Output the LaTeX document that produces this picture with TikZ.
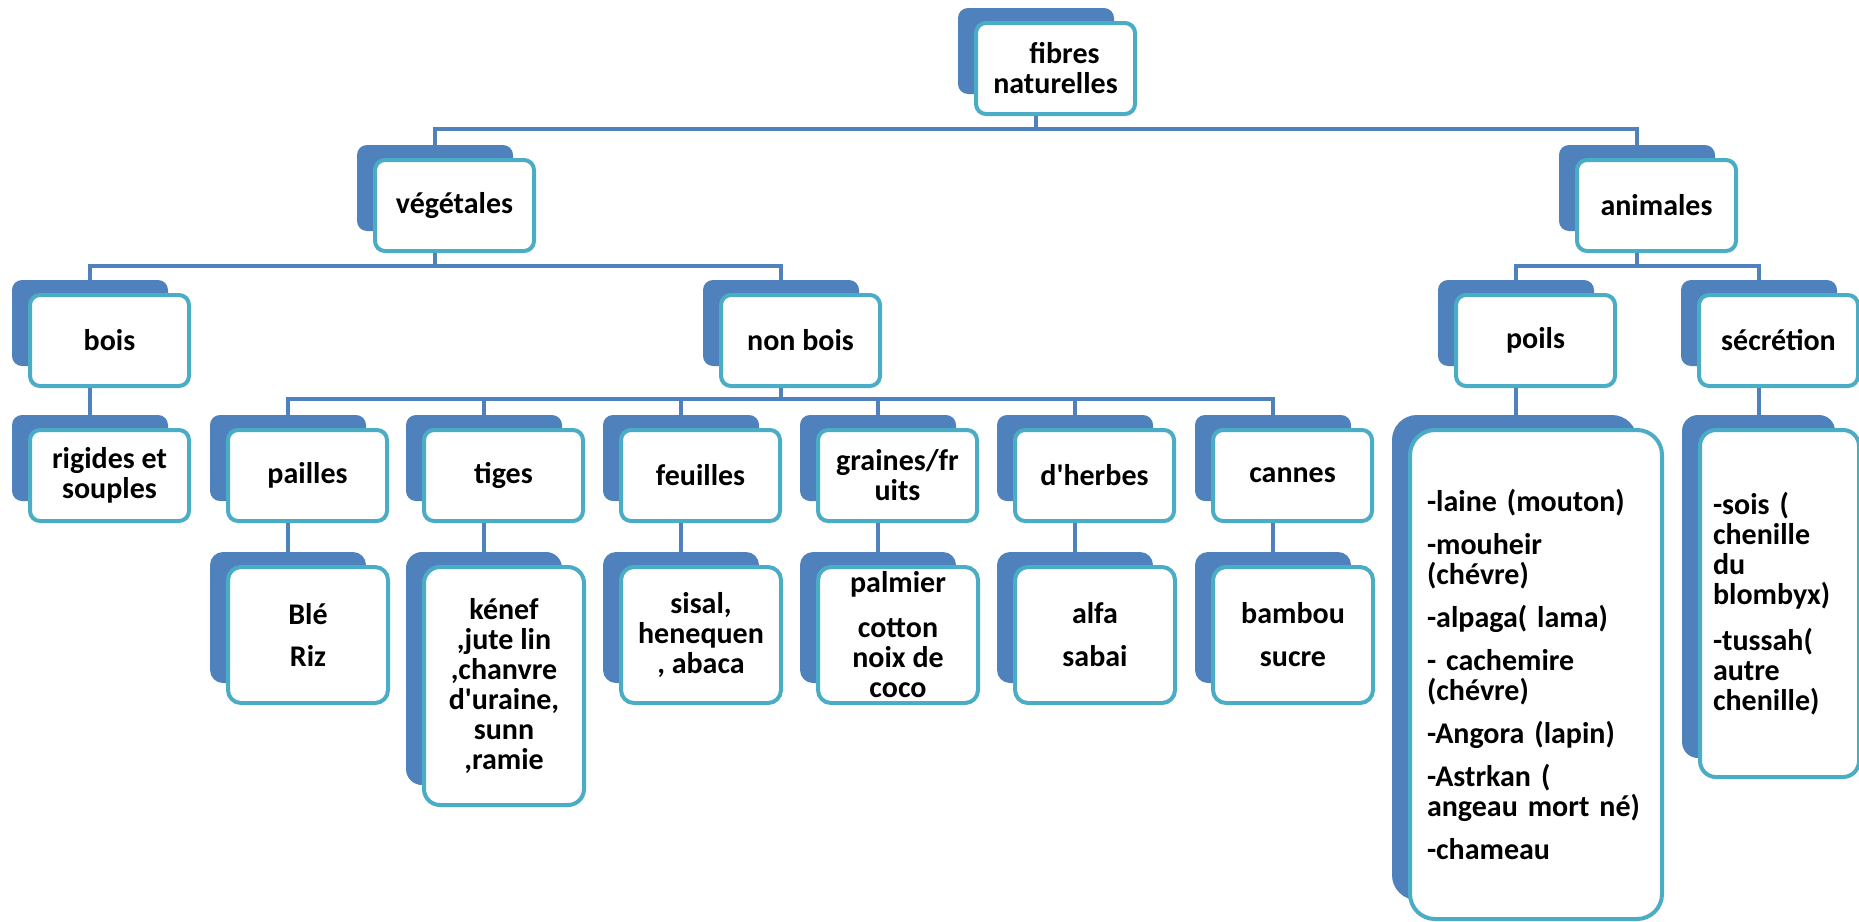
\documentclass[tikz,border=0pt]{standalone}
\usepackage{fontspec}
\setmainfont{Carlito}
\newfontfamily\apfont{Carlito}
\definecolor{backblue}{RGB}{79,129,189}
\definecolor{frontcyan}{RGB}{75,172,198}
\definecolor{connblue}{RGB}{79,129,189}
\newcommand\apos{{\apfont\bfseries '}}
% #1 extra scope options, #2 name, #3,#4 back top-left, #5,#6 back size, #7,#8 front size, #9 text
\newcommand\duo[9]{%
  \begin{scope}[every node/.append style={rounded corners=10pt, align=center}, #1]
    \node[backbox, minimum width=#5pt, minimum height=#6pt, anchor=north west] (#2-b) at (#3,#4) {};
    \node[frontbox, minimum width={#7pt-4pt}, minimum height={#8pt-4pt}, anchor=north west] (#2) at ({#3+16},{#4+13}) {#9};
  \end{scope}}
\begin{document}
\begin{tikzpicture}[x=1pt, y=-1pt,
  backbox/.style={fill=backblue, draw=none, inner sep=0pt, outer sep=0pt},
  frontbox/.style={fill=white, draw=frontcyan, line width=4pt, inner sep=0pt, outer sep=2pt,
    text=black, font=\fontsize{30}{30}\selectfont\bfseries},
  conn/.style={draw=connblue, line width=3.5pt}]
\useasboundingbox (0,0) rectangle (1859,921);
\fill[white] (0,0) rectangle (1859,921);

% level 1
\duo{}{fib}{958}{8}{156}{86}{163}{95}{\hspace*{18pt}fibres\\naturelles}
% level 2
\duo{}{veg}{357}{145}{156}{86}{163}{95}{végétales}
\duo{}{ani}{1559}{145}{156}{86}{163}{95}{animales}
% level 3
\duo{}{bois}{12}{280}{156}{86}{163}{95}{bois}
\duo{}{nonbois}{703}{280}{156}{86}{163}{95}{non bois}
\duo{}{poils}{1438}{280}{156}{86}{163}{95}{poils}
\duo{}{secr}{1681}{280}{156}{86}{163}{95}{sécrétion}
% level 4
\duo{}{rig}{12}{415}{156}{86}{163}{95}{rigides et\\souples}
\duo{}{pailles}{210}{415}{156}{86}{163}{95}{pailles}
\duo{}{tiges}{406}{415}{156}{86}{163}{95}{tiges}
\duo{}{feuilles}{603}{415}{156}{86}{163}{95}{feuilles}
\duo{}{graines}{800}{415}{156}{86}{163}{95}{graines/fr\\uits}
\duo{}{herbes}{997}{415}{156}{86}{163}{95}{d\apos herbes}
\duo{}{cannes}{1195}{415}{156}{86}{163}{95}{cannes}
\duo{every node/.append style={rounded corners=25pt, align=left, text width=218pt}}{pleaf}{1392}{415}{245}{485}{256}{493}{-laine (mouton)\\[13pt]-mouheir\\(chévre)\\[13pt]-alpaga( lama)\\[13pt]- cachemire\\(chévre)\\[13pt]-Angora (lapin)\\[13pt]-Astrkan (\\angeau mort né)\\[13pt]-chameau}
\duo{every node/.append style={rounded corners=16pt, align=left, text width=133pt}}{sleaf}{1682}{415}{153}{343}{163}{351}{-sois (\\chenille\\du\\blombyx)\\[16pt]-tussah(\\autre\\chenille)}
% level 5
\duo{every node/.append style={rounded corners=13pt}}{ble}{210}{552}{156}{131}{164}{140}{Blé\\[12pt]Riz}
\duo{every node/.append style={rounded corners=16pt}}{kenef}{406}{552}{156}{233}{164}{242}{kénef\\,jute lin\\,chanvre\\d\apos uraine,\\sunn\\,ramie}
\duo{every node/.append style={rounded corners=13pt}}{sisal}{603}{552}{156}{131}{164}{140}{sisal,\\henequen\\, abaca}
\duo{every node/.append style={rounded corners=13pt}}{palm}{800}{552}{156}{131}{164}{140}{palmier\\[15pt]cotton\\noix de\\coco}
\duo{every node/.append style={rounded corners=13pt}}{alfa}{997}{552}{156}{131}{164}{140}{alfa\\[13pt]sabai}
\duo{every node/.append style={rounded corners=13pt}}{bamb}{1195}{552}{156}{131}{164}{140}{bambou\\[13pt]sucre}

% connectors
\draw[conn] (fib-b |- fib.south) -- ++(0,13) -| (veg-b.north);
\draw[conn] (fib-b |- fib.south) -- ++(0,13) -| (ani-b.north);
\draw[conn] (veg-b |- veg.south) -- ++(0,13) -| (bois-b.north);
\draw[conn] (veg-b |- veg.south) -- ++(0,13) -| (nonbois-b.north);
\draw[conn] (ani-b |- ani.south) -- ++(0,13) -| (poils-b.north);
\draw[conn] (ani-b |- ani.south) -- ++(0,13) -| (secr-b.north);
\draw[conn] (bois-b |- bois.south) -- (rig-b.north);
\foreach \c in {pailles,tiges,feuilles,graines,herbes,cannes}
  \draw[conn] (nonbois-b |- nonbois.south) -- ++(0,11) -| (\c-b.north);
\draw[conn] (poils-b |- poils.south) -- (poils-b |- pleaf-b.north);
\draw[conn] (secr-b |- secr.south) -- (secr-b |- sleaf-b.north);
\draw[conn] (pailles-b |- pailles.south) -- (ble-b.north);
\draw[conn] (tiges-b |- tiges.south) -- (kenef-b.north);
\draw[conn] (feuilles-b |- feuilles.south) -- (sisal-b.north);
\draw[conn] (graines-b |- graines.south) -- (palm-b.north);
\draw[conn] (herbes-b |- herbes.south) -- (alfa-b.north);
\draw[conn] (cannes-b |- cannes.south) -- (bamb-b.north);
\end{tikzpicture}
\end{document}
